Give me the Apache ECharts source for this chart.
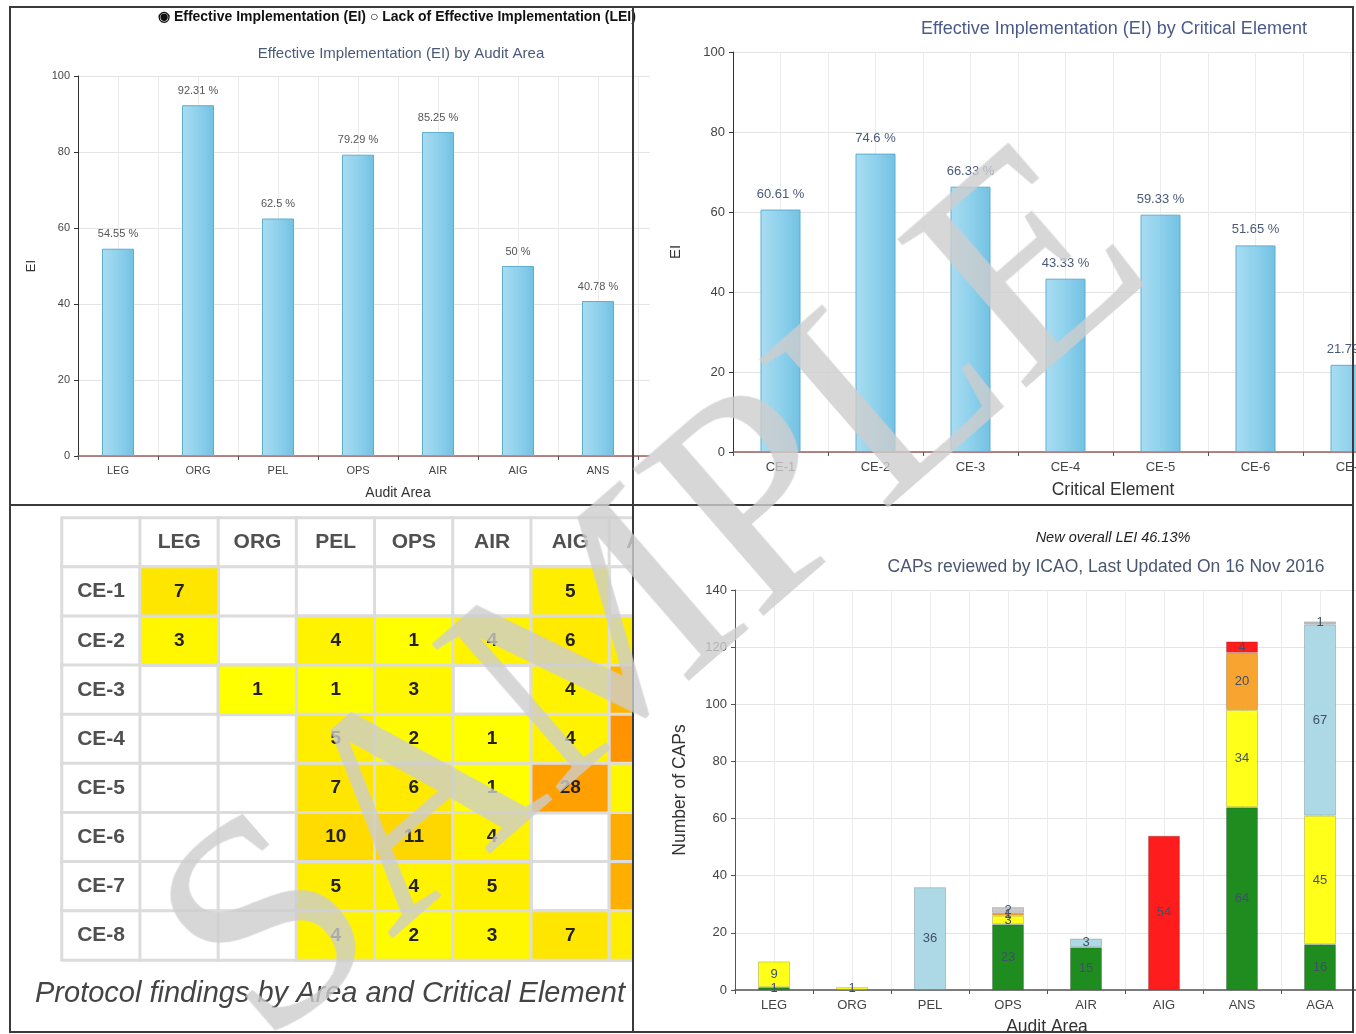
<!DOCTYPE html>
<html>
<head>
<meta charset="utf-8">
<title>USOAP dashboard</title>
<script src="https://cdn.jsdelivr.net/npm/echarts@6.0.0/dist/echarts.min.js"></script>
<style>
  body { margin: 0; background: #fff; }
  #page { position: relative; width: 1356px; height: 1034px; overflow: hidden; }
  .panel { position: absolute; overflow: hidden; }
  .chart { position: absolute; left: 0; top: 0; }
  .line { position: absolute; background: #3a3a3a; pointer-events: none; }
  #mark {
    position: absolute; left: 645px; top: 585px;
    transform: translate(-50%, -50%) rotate(-41deg);
    font: 300px "Liberation Serif", serif; line-height: 1;
    color: rgba(205, 205, 205, 0.8); white-space: nowrap; pointer-events: none;
  }
</style>
</head>
<body>
<div id="page">
  <div class="panel" style="left:10px;top:7px;width:640px;height:498px;">
    <div id="p1" class="chart" style="width:760px;height:498px;"></div>
  </div>
  <div class="panel" style="left:633px;top:7px;width:723px;height:498px;">
    <div id="p2" class="chart" style="width:900px;height:498px;"></div>
  </div>
  <div class="panel" style="left:10px;top:505px;width:623px;height:527px;">
    <div id="p3" class="chart" style="width:720px;height:527px;"></div>
  </div>
  <div class="panel" style="left:633px;top:505px;width:723px;height:529px;">
    <div id="p4" class="chart" style="width:780px;height:529px;"></div>
  </div>

  <!-- panel frames -->
  <div class="line" style="left:9px;top:6px;width:1345px;height:2px;"></div>
  <div class="line" style="left:9px;top:1031px;width:1345px;height:2px;"></div>
  <div class="line" style="left:9px;top:6px;width:2px;height:1027px;"></div>
  <div class="line" style="left:1352px;top:6px;width:2px;height:1027px;"></div>
  <div class="line" style="left:632px;top:6px;width:2px;height:1027px;"></div>
  <div class="line" style="left:9px;top:504px;width:1345px;height:2px;"></div>

  <div id="mark">SAMPLE</div>
</div>

<script>
// ---- data ----
// last category of each EI chart lies outside the visible panel
var areaCats = ['LEG', 'ORG', 'PEL', 'OPS', 'AIR', 'AIG', 'ANS', 'AGA'];
var areaEI = [54.55, 92.31, 62.5, 79.29, 85.25, 50, 40.78, null];

var ceCats = ['CE-1', 'CE-2', 'CE-3', 'CE-4', 'CE-5', 'CE-6', 'CE-7', 'CE-8'];
var ceEI = [60.61, 74.6, 66.33, 43.33, 59.33, 51.65, 21.79, null];

// protocol findings table (rows CE-1..CE-8, columns LEG..ANS)
var tableCols = ['', 'LEG', 'ORG', 'PEL', 'OPS', 'AIR', 'AIG', 'ANS'];
var tableRows = ['', 'CE-1', 'CE-2', 'CE-3', 'CE-4', 'CE-5', 'CE-6', 'CE-7', 'CE-8'];
var findings = [
  [7, null, null, null, null, 5, null],
  [3, null, 4, 1, 4, 6, 5],
  [null, 1, 1, 3, null, 4, 21],
  [null, null, 5, 2, 1, 4, 32],
  [null, null, 7, 6, 1, 28, 3],
  [null, null, 10, 11, 4, null, 24],
  [null, null, 5, 4, 5, null, 23],
  [null, null, 4, 2, 3, 7, 5]
];

// CAPs by audit area, stacked by status
var capCats = ['LEG', 'ORG', 'PEL', 'OPS', 'AIR', 'AIG', 'ANS', 'AGA'];
var capGreen  = [1, null, null, 23, 15, null, 64, 16];
var capYellow = [9, 1, null, 3, null, null, 34, 45];
var capOrange = [null, null, null, 1, null, null, 20, null];
var capRed    = [null, null, null, null, null, 54, 4, null];
var capBlue   = [null, null, 36, null, 3, null, null, 67];
var capGrey   = [null, null, null, 2, null, null, null, 1];

var FONT = 'Liberation Sans, Arial, sans-serif';

function barStyle() {
  return {
    color: new echarts.graphic.LinearGradient(0, 0, 1, 0, [
      { offset: 0, color: '#a9ddf2' },
      { offset: 0.5, color: '#8fd1ec' },
      { offset: 1, color: '#72c1e3' }
    ]),
    borderColor: '#5eaed2',
    borderWidth: 1
  };
}

// ---- top left: EI by audit area ----
var c1 = echarts.init(document.getElementById('p1'));
c1.setOption({
  textStyle: { fontFamily: FONT },
  animation: false,
  title: {
    text: 'Effective Implementation (EI) by Audit Area',
    left: 386, top: 34, textAlign: 'center',
    textStyle: { fontSize: 15, fontWeight: 'normal', color: '#4a5a78', fontFamily: FONT }
  },
  graphic: [{
    type: 'text', left: 148, top: 3,
    style: {
      text: '◉ Effective Implementation (EI) ○ Lack of Effective Implementation (LEI)',
      font: 'bold 14px Liberation Sans', fill: '#111'
    }
  }],
  grid: { left: 68, top: 69, width: 640, height: 380, outerBoundsMode: 'none' },
  xAxis: [{
    type: 'category', data: areaCats,
    axisLine: { lineStyle: { color: '#a05c5c', width: 1.5 } },
    axisTick: { show: true, length: 4, lineStyle: { color: '#555' } },
    axisLabel: { fontSize: 11, color: '#444', margin: 9 },
    name: 'Audit Area', nameLocation: 'middle', nameGap: 30,
    nameTextStyle: { fontSize: 14, color: '#333' }
  }, {
    type: 'value', min: 0, max: 16, interval: 1, position: 'top',
    axisLine: { show: false }, axisTick: { show: false }, axisLabel: { show: false },
    splitLine: { show: true, lineStyle: { color: '#ececec' } }
  }],
  yAxis: {
    type: 'value', min: 0, max: 100, interval: 20,
    axisLine: { show: true, lineStyle: { color: '#333' } },
    axisTick: { show: true, length: 4 },
    axisLabel: { fontSize: 11, color: '#444' },
    splitLine: { lineStyle: { color: '#e4e4e4' } },
    name: 'EI', nameLocation: 'middle', nameGap: 40,
    nameTextStyle: { fontSize: 13, color: '#333' }
  },
  series: [{
    type: 'bar', data: areaEI, barWidth: 32, xAxisIndex: 0,
    itemStyle: barStyle(),
    label: { show: true, position: 'top', distance: 9, formatter: '{c} %', fontSize: 11, color: '#555' }
  }]
});

// ---- top right: EI by critical element ----
var c2 = echarts.init(document.getElementById('p2'));
c2.setOption({
  textStyle: { fontFamily: FONT },
  animation: false,
  title: {
    text: 'Effective Implementation (EI) by Critical Element',
    left: 476, top: 8, textAlign: 'center',
    textStyle: { fontSize: 18, fontWeight: 'normal', color: '#4a5a8a', fontFamily: FONT }
  },
  grid: { left: 100, top: 45, width: 760, height: 400, outerBoundsMode: 'none' },
  xAxis: [{
    type: 'category', data: ceCats,
    axisLine: { lineStyle: { color: '#a05c5c', width: 1.5 } },
    axisTick: { show: true, length: 4, lineStyle: { color: '#555' } },
    axisLabel: { fontSize: 13, color: '#444', margin: 9 },
    name: 'Critical Element', nameLocation: 'middle', nameGap: 29,
    nameTextStyle: { fontSize: 17.5, color: '#333' }
  }, {
    type: 'value', min: 0, max: 16, interval: 1, position: 'top',
    axisLine: { show: false }, axisTick: { show: false }, axisLabel: { show: false },
    splitLine: { show: true, lineStyle: { color: '#ececec' } }
  }],
  yAxis: {
    type: 'value', min: 0, max: 100, interval: 20,
    axisLine: { show: true, lineStyle: { color: '#333' } },
    axisTick: { show: true, length: 4 },
    axisLabel: { fontSize: 13, color: '#444' },
    splitLine: { lineStyle: { color: '#e4e4e4' } },
    name: 'EI', nameLocation: 'middle', nameGap: 50,
    nameTextStyle: { fontSize: 15, color: '#333' }
  },
  series: [{
    type: 'bar', data: ceEI, barWidth: 40, xAxisIndex: 0,
    itemStyle: barStyle(),
    label: { show: true, position: 'top', distance: 9, formatter: '{c} %', fontSize: 13, color: '#4a5a78' }
  }]
});

// ---- bottom left: protocol findings table ----
var cells = [], hits = [];
tableRows.forEach(function (r, y) {
  tableCols.forEach(function (c, x) { cells.push([x, y, 0]); });
});
findings.forEach(function (row, i) {
  row.forEach(function (v, j) { if (v != null) hits.push([j + 1, i + 1, v]); });
});

var c3 = echarts.init(document.getElementById('p3'));
c3.setOption({
  textStyle: { fontFamily: FONT },
  animation: false,
  grid: { left: 52, top: 13, width: 625.6, height: 442, outerBoundsMode: 'none' },
  xAxis: { type: 'category', data: tableCols, show: false },
  yAxis: { type: 'category', data: tableRows, inverse: true, show: false },
  visualMap: {
    show: false, seriesIndex: 1, dimension: 2, min: 1, max: 32,
    inRange: { color: ['#ffff00', '#ffdf00', '#ffc400', '#ffab00', '#ff9400'] }
  },
  graphic: [{
    type: 'text', left: 25, top: 474,
    style: {
      text: 'Protocol findings by Area and Critical Element',
      font: 'italic 29px Liberation Sans', fill: '#444'
    }
  }],
  series: [{
    type: 'heatmap', data: cells,
    itemStyle: { color: '#ffffff', borderColor: '#dcdcdc', borderWidth: 3 },
    label: {
      show: true, fontSize: 21, fontWeight: 'bold', color: '#505050',
      formatter: function (p) {
        if (p.data[0] === 0) return tableRows[p.data[1]];
        if (p.data[1] === 0) return tableCols[p.data[0]];
        return '';
      }
    },
    emphasis: { disabled: true }
  }, {
    type: 'heatmap', data: hits,
    itemStyle: { borderColor: '#dcdcdc', borderWidth: 3 },
    label: { show: true, fontSize: 19, fontWeight: 'bold', color: '#222', formatter: function (p) { return p.data[2]; } },
    emphasis: { disabled: true }
  }]
});

// ---- bottom right: CAPs reviewed ----
function capSeries(name, data, color) {
  return {
    name: name, type: 'bar', stack: 'caps', data: data, barWidth: 32,
    itemStyle: { color: color, borderColor: 'rgba(0,0,0,0.18)', borderWidth: 1 },
    label: { show: true, position: 'inside', fontSize: 13, color: '#3f5068' }
  };
}
var c4 = echarts.init(document.getElementById('p4'));
c4.setOption({
  textStyle: { fontFamily: FONT },
  animation: false,
  title: [{
    text: 'New overall LEI 46.13%',
    left: 475, top: 20, textAlign: 'center',
    textStyle: { fontSize: 14.5, fontStyle: 'italic', fontWeight: 'normal', color: '#222', fontFamily: FONT }
  }, {
    text: 'CAPs reviewed by ICAO, Last Updated On 16 Nov 2016',
    left: 468, top: 48, textAlign: 'center',
    textStyle: { fontSize: 17.5, fontWeight: 'normal', color: '#4a5670', fontFamily: FONT }
  }],
  grid: { left: 102, top: 85, width: 624, height: 400, outerBoundsMode: 'none' },
  xAxis: [{
    type: 'category', data: capCats,
    axisLine: { lineStyle: { color: '#555', width: 1.5 } },
    axisTick: { show: true, length: 4, lineStyle: { color: '#555' } },
    axisLabel: { fontSize: 13, color: '#444', margin: 9 },
    name: 'Audit Area', nameLocation: 'middle', nameGap: 28,
    nameTextStyle: { fontSize: 17.5, color: '#333' }
  }, {
    type: 'value', min: 0, max: 16, interval: 1, position: 'top',
    axisLine: { show: false }, axisTick: { show: false }, axisLabel: { show: false },
    splitLine: { show: true, lineStyle: { color: '#ececec' } }
  }],
  yAxis: {
    type: 'value', min: 0, max: 140, interval: 20,
    axisLine: { show: true, lineStyle: { color: '#555' } },
    axisTick: { show: true, length: 4 },
    axisLabel: { fontSize: 13, color: '#444' },
    splitLine: { lineStyle: { color: '#e4e4e4' } },
    name: 'Number of CAPs', nameLocation: 'middle', nameGap: 46,
    nameTextStyle: { fontSize: 17.5, color: '#333' }
  },
  series: [
    capSeries('Green', capGreen, '#1f8c1f'),
    capSeries('Yellow', capYellow, '#ffff1a'),
    capSeries('Orange', capOrange, '#f7a430'),
    capSeries('Red', capRed, '#ff1c1c'),
    capSeries('Light blue', capBlue, '#add8e6'),
    capSeries('Grey', capGrey, '#c9c9c9')
  ]
});
</script>
</body>
</html>
